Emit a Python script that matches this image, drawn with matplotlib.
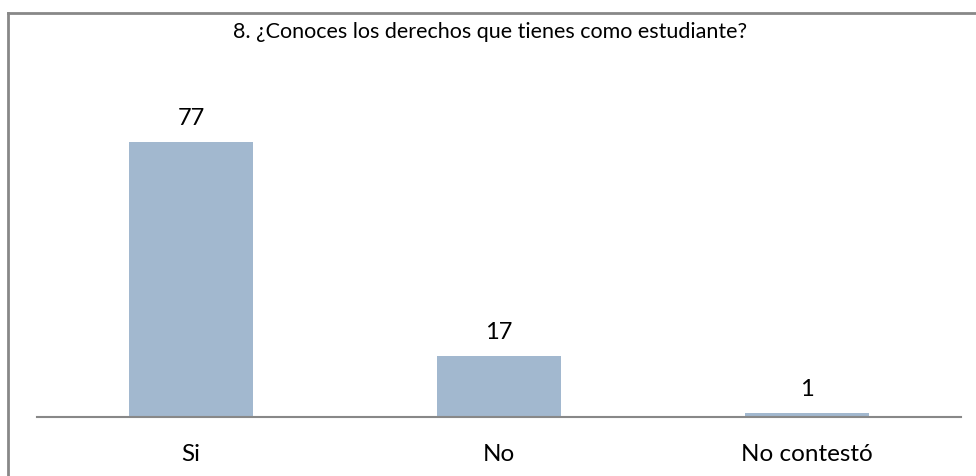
import matplotlib
matplotlib.use("Agg")
import matplotlib.pyplot as plt
from matplotlib.lines import Line2D

categories = ["Si", "No", "No contestó"]
counts = [77, 17, 1]
title = "8. ¿Conoces los derechos que tienes como estudiante?"

W, H = 976, 477
plt.rcParams['font.family'] = ['Lato', 'DejaVu Sans']

fig = plt.figure(figsize=(W / 100, H / 100), dpi=100)
ax = fig.add_axes([37 / W, 1 - 418 / H, (961 - 37) / W, (418 - 96.6) / H])

x = range(len(categories))
ax.bar(x, counts, width=0.4, color="#a2b8cf")
ax.set_xlim(-0.5, len(categories) - 0.5)
ax.set_ylim(0, 90)

for xi, v in zip(x, counts):
    ax.text(xi, v + 4, str(v), ha="center", va="bottom", fontsize=17, color="black")

for s in ["top", "right", "left"]:
    ax.spines[s].set_visible(False)
ax.spines["bottom"].set_color("#888888")
ax.spines["bottom"].set_linewidth(1.5)
ax.set_yticks([])
ax.set_xticks(list(x))
ax.set_xticklabels(categories, fontsize=17.5)
ax.tick_params(axis="x", length=0, pad=19)

fig.text(490 / W, 1 - 32 / H, title, ha="center", va="center", fontsize=15.5)

# outer frame: only the top and left edges show
fig.add_artist(Line2D([8 / W, 1], [1 - 14 / H, 1 - 14 / H], color="#888888", lw=2,
                      transform=fig.transFigure))
fig.add_artist(Line2D([8 / W, 8 / W], [1 - 14 / H, 0], color="#888888", lw=2,
                      transform=fig.transFigure))

fig.savefig("out.png", dpi=100)
